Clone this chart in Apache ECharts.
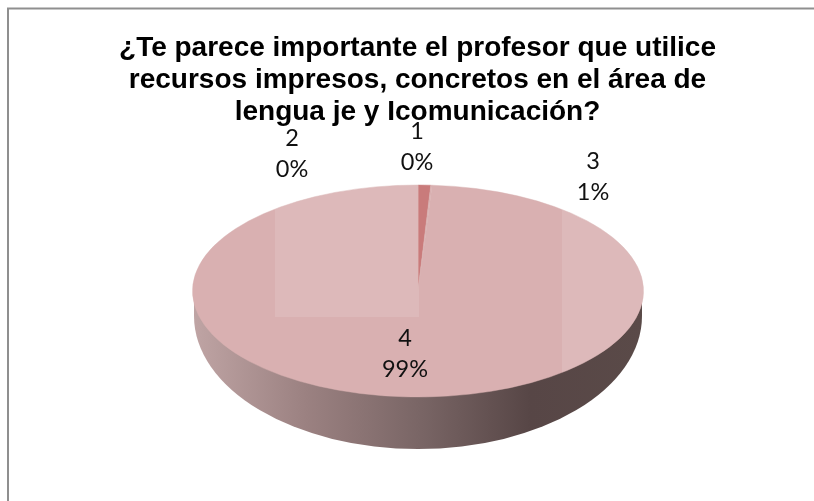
<!DOCTYPE html>
<html><head><meta charset="utf-8">
<style>html,body{margin:0;padding:0;background:#fff}#c{width:814px;height:501px}</style>
<script src="https://cdn.jsdelivr.net/npm/echarts@6/dist/echarts.min.js"></script>
</head><body><div id="c"></div>
<script>
const titleText = '¿Te parece importante el profesor que utilice\nrecursos impresos, concretos en el área de\nlengua je y Icomunicación?';
const categories = ['1', '2', '3', '4'];
const values = [0.9, 0, 0.1, 99];
const percentLabels = ['0%', '0%', '1%', '99%'];
const sliceColors = ['#c97b7b', '#d9b0b1', '#d9b0b1', '#d9b0b1'];

const CX = 418, CY = 291, RX = 225.5, RY = 106;
const WALL = {cy: 316, rx: 224, ry: 133};
const LABEL_POS = [[417, 131], [292, 138], [593, 161], [405, 338]];
const LABEL_GAP = 31;
const LIGHT_RECTS = [[275, 185, 144, 132], [562, 185, 84, 230]];

const total = values.reduce((a, b) => a + b, 0);
const start = [];
values.reduce((acc, v, i) => { start[i] = acc; return acc + v; }, 0);

const wallStops = [
  {offset: 0, color: '#bfa4a4'}, {offset: 0.25, color: '#9b8181'},
  {offset: 0.5, color: '#7a6666'}, {offset: 0.75, color: '#574646'},
  {offset: 1, color: '#5a4a48'}];
const wallGradient = {type: 'linear', x: 0, y: 0, x2: 1, y2: 0, colorStops: wallStops};

function ang(v) { return -Math.PI / 2 + v / total * Math.PI * 2; }

function renderWall(params, api) {
  if (params.dataIndex !== 0) return null;
  return {type: 'group', children: [
    {type: 'rect', shape: {x: CX - WALL.rx, y: CY, width: WALL.rx * 2, height: WALL.cy - CY},
      style: {fill: wallGradient}},
    {type: 'group', x: CX, y: WALL.cy, scaleY: WALL.ry / WALL.rx, children: [
      {type: 'sector', shape: {cx: 0, cy: 0, r: WALL.rx, r0: 0, startAngle: 0, endAngle: Math.PI, clockwise: true},
        style: {fill: wallGradient}}]}
  ]};
}

function renderSlice(params, api) {
  const i = params.dataIndex, v = api.value(1);
  if (v <= 0) return null;
  return {type: 'group', x: CX, y: CY, scaleY: RY / RX, children: [
    {type: 'sector', shape: {cx: 0, cy: 0, r: RX, r0: 0, startAngle: ang(start[i]), endAngle: ang(start[i] + v), clockwise: true},
      style: {fill: sliceColors[i], stroke: sliceColors[i], lineWidth: 0.6}}]};
}

function renderLight(params) {
  const r = LIGHT_RECTS[params.dataIndex];
  return {type: 'rect', shape: {x: r[0], y: r[1], width: r[2], height: r[3]},
    style: {fill: 'rgba(255,255,255,0.12)'},
    clipPath: {type: 'path', shape: {pathData: 'M' + (CX - RX) + ' ' + CY + 'A' + RX + ' ' + RY + ' 0 1 1 ' + (CX + RX) + ' ' + CY + 'A' + RX + ' ' + RY + ' 0 1 1 ' + (CX - RX) + ' ' + CY + 'Z'}}};
}

function renderLabel(params, api) {
  const i = params.dataIndex, p = LABEL_POS[i];
  const common = {align: 'center', verticalAlign: 'middle', font: '23.5px Lato, "Open Sans", sans-serif', fill: '#111'};
  return {type: 'group', children: [
    {type: 'text', x: p[0], y: p[1], style: Object.assign({text: categories[i]}, common)},
    {type: 'text', x: p[0], y: p[1] + LABEL_GAP, style: Object.assign({text: percentLabels[i]}, common)}]};
}

const rows = categories.map((c, i) => [c, values[i]]);
const chart = echarts.init(document.getElementById('c'), null, {renderer: 'canvas'});
chart.setOption({
  animation: false,
  backgroundColor: '#ffffff',
  title: {text: titleText, left: 412.5, top: 27, textAlign: 'center',
    textStyle: {fontFamily: '"Liberation Sans", Arial, sans-serif', fontWeight: 'bold', fontSize: 28, lineHeight: 32, color: '#000'}},
  graphic: [{type: 'polyline', shape: {points: [[8, 501], [8, 8.5], [814, 8.5]]}, style: {stroke: '#8f8f8f', fill: null, lineWidth: 2}}],
  xAxis: {show: false}, yAxis: {show: false},
  series: [
    {type: 'custom', coordinateSystem: 'none', data: rows, renderItem: renderWall, silent: true, z: 1},
    {type: 'custom', coordinateSystem: 'none', data: rows, renderItem: renderSlice, silent: true, z: 2},
    {type: 'custom', coordinateSystem: 'none', data: LIGHT_RECTS.map((r, i) => [i]), renderItem: renderLight, silent: true, z: 3},
    {type: 'custom', coordinateSystem: 'none', data: rows, renderItem: renderLabel, silent: true, z: 4}
  ]
});
</script></body></html>
